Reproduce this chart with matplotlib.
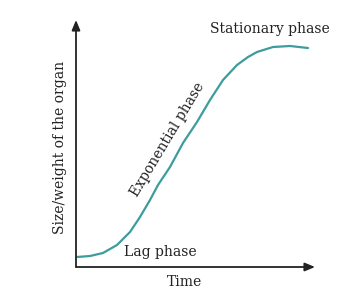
import matplotlib
matplotlib.use("Agg")
import matplotlib.pyplot as plt

# Curve (x: time, y: size), in axis units
time_vals = [1, 14, 27, 41, 54, 64, 74, 82, 94, 107, 121, 134, 147, 161, 172, 181, 197, 214, 232]
size_vals = [10, 11, 14, 22, 35, 50, 67, 82, 100, 124, 145, 167, 187, 202, 210, 215, 220, 221, 219]

x_label = "Time"
y_label = "Size/weight of the organ"
phase_labels = ["Lag phase", "Exponential phase", "Stationary phase"]

W, H = 350, 292
fig = plt.figure(figsize=(W / 100, H / 100), dpi=100)
ax = fig.add_axes([76 / W, 25 / H, 239 / W, 247 / H])
ax.set_xlim(0, 239)
ax.set_ylim(0, 247)
ax.axis("off")

font = dict(family="DejaVu Serif", color="#222222", fontsize=10)

# Axes drawn as arrows
arrow = dict(arrowstyle="-|>,head_length=0.6,head_width=0.25", color="#222222",
             lw=1.3, shrinkA=0, shrinkB=0)
ax.annotate("", xy=(239, 0), xytext=(0, 0), arrowprops=arrow, annotation_clip=False)
ax.annotate("", xy=(0, 247), xytext=(0, 0), arrowprops=arrow, annotation_clip=False)

ax.plot(time_vals, size_vals, color="#3d9c9c", lw=1.6, solid_capstyle="round",
        solid_joinstyle="round")

ax.text(109, -15, x_label, ha="center", va="center", clip_on=False, **font)
ax.text(-16, 120, y_label, ha="center", va="center", rotation=90, **font)
ax.text(84, 15, phase_labels[0], ha="center", va="center", **font)
ax.text(92, 127, phase_labels[1], ha="center", va="center", rotation=59, **font)
ax.text(194, 238, phase_labels[2], ha="center", va="center", **font)

fig.savefig("out.png", dpi=100, facecolor="white")
